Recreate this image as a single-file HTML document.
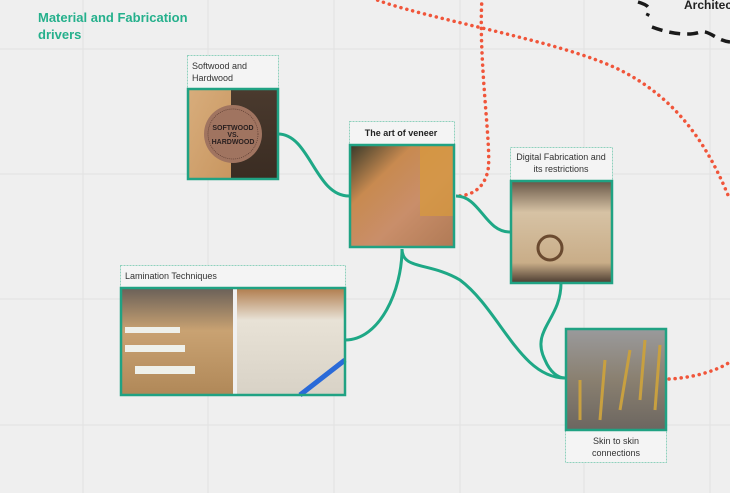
<!DOCTYPE html>
<html><head><style>
html,body{margin:0;padding:0;}
body{width:730px;height:493px;overflow:hidden;background:#efefef;font-family:"Liberation Sans",sans-serif;}
</style></head><body>
<svg width="730" height="493" xmlns="http://www.w3.org/2000/svg" style="position:absolute;left:0;top:0">
<defs>
<linearGradient id="ply" x1="0" y1="0" x2="1" y2="1"><stop offset="0" stop-color="#d8ad7c"/><stop offset="1" stop-color="#c89660"/></linearGradient>
<linearGradient id="dark" x1="0" y1="0" x2="0" y2="1"><stop offset="0" stop-color="#4a3a2e"/><stop offset="1" stop-color="#3a2c22"/></linearGradient>
<linearGradient id="ven" x1="0" y1="0" x2="1" y2="1"><stop offset="0" stop-color="#3a3a2a"/><stop offset="0.3" stop-color="#c88a50"/><stop offset="0.6" stop-color="#c98e6a"/><stop offset="1" stop-color="#b07a55"/></linearGradient>
<linearGradient id="cnc" x1="0" y1="0" x2="0" y2="1"><stop offset="0" stop-color="#6b5a4a"/><stop offset="0.3" stop-color="#d6c2a4"/><stop offset="0.8" stop-color="#c9ad88"/><stop offset="1" stop-color="#4a3b30"/></linearGradient>
<linearGradient id="bolt" x1="0" y1="0" x2="0" y2="1"><stop offset="0" stop-color="#9a9a9c"/><stop offset="0.5" stop-color="#8a8070"/><stop offset="1" stop-color="#6c6660"/></linearGradient>
<linearGradient id="lamL" x1="0" y1="0" x2="0" y2="1"><stop offset="0" stop-color="#6a6058"/><stop offset="0.4" stop-color="#c9a272"/><stop offset="1" stop-color="#b08858"/></linearGradient>
<linearGradient id="lamR" x1="0" y1="0" x2="0" y2="1"><stop offset="0" stop-color="#b07c4c"/><stop offset="0.3" stop-color="#e8e2d6"/><stop offset="1" stop-color="#d8d2c6"/></linearGradient>
</defs>
<g stroke="#e2e2e2" stroke-width="1">
<line x1="83" y1="0" x2="83" y2="493"/><line x1="208" y1="0" x2="208" y2="493"/><line x1="334" y1="0" x2="334" y2="493"/><line x1="460" y1="0" x2="460" y2="493"/><line x1="584" y1="0" x2="584" y2="493"/><line x1="710" y1="0" x2="710" y2="493"/>
<line x1="0" y1="49" x2="730" y2="49"/><line x1="0" y1="174" x2="730" y2="174"/><line x1="0" y1="299" x2="730" y2="299"/><line x1="0" y1="425" x2="730" y2="425"/>
</g>
<g fill="none" stroke="#f0553a" stroke-width="3.5" stroke-dasharray="0.1 6" stroke-linecap="round">
<path d="M372,-2 C420,18 560,40 620,70 C680,100 710,150 730,200"/>
<path d="M482,-2 C478,60 492,150 488,170 C484,190 470,196 456,196"/>
<path d="M669,379 C690,378 715,372 730,362"/>
</g>
<g fill="none" stroke="#1a1a1a" stroke-width="3.5" stroke-dasharray="11 7">
<path d="M638,2 C648,5 652,8 647,16 M652,27 C670,34 690,36 700,32 C710,30 715,40 730,42"/>
</g>
<text x="684" y="9" font-size="12" font-weight="bold" fill="#222">Architec</text>
<g fill="none" stroke="#1ea886" stroke-width="3">
<path d="M278,134 C310,134 315,196 349,196"/>
<path d="M456,196 C480,196 485,232 510,232"/>
<path d="M402,249 C402,290 380,340 345,340"/>
<path d="M402,249 C402,270 430,262 460,280 C500,310 520,378 565,378"/>
<path d="M561,283 C561,320 530,330 545,360 C550,372 558,378 565,378"/>
</g>
<text x="38" y="22" font-size="13" font-weight="bold" fill="#25b08c">Material and Fabrication</text>
<text x="38" y="39" font-size="13" font-weight="bold" fill="#25b08c">drivers</text>
<g fill="#f4f4f4" stroke="#8fd1bd" stroke-width="1" stroke-dasharray="2 1">
<rect x="187.5" y="55.5" width="91" height="33"/>
<rect x="349.5" y="121.5" width="105" height="23"/>
<rect x="510.5" y="147.5" width="102" height="33"/>
<rect x="120.5" y="265.5" width="225" height="22"/>
<rect x="565.5" y="430.5" width="101" height="32"/>
</g>
<g font-size="9" fill="#333">
<text x="192" y="69">Softwood and</text><text x="192" y="81">Hardwood</text>
<text x="401" y="136" text-anchor="middle" font-weight="bold" fill="#222">The art of veneer</text>
<text x="561" y="160" text-anchor="middle">Digital Fabrication and</text><text x="561" y="172" text-anchor="middle">its restrictions</text>
<text x="125" y="279">Lamination Techniques</text>
<text x="616" y="444" text-anchor="middle">Skin to skin</text><text x="616" y="456" text-anchor="middle">connections</text>
</g>
<rect x="188" y="90" width="43" height="89" fill="url(#ply)"/>
<rect x="231" y="90" width="47" height="89" fill="url(#dark)"/>
<circle cx="233" cy="134" r="29" fill="#a07460"/>
<circle cx="233" cy="134" r="25" fill="none" stroke="#5a3a30" stroke-width="0.7" stroke-dasharray="1 1"/>
<text x="233" y="130" font-size="7" font-weight="bold" text-anchor="middle" fill="#2a2020">SOFTWOOD</text>
<text x="233" y="137" font-size="7" font-weight="bold" text-anchor="middle" fill="#2a2020">VS.</text>
<text x="233" y="144" font-size="7" font-weight="bold" text-anchor="middle" fill="#2a2020">HARDWOOD</text>
<rect x="350" y="146" width="104" height="101" fill="url(#ven)"/>
<rect x="420" y="146" width="34" height="70" fill="#d89a3c" opacity="0.7"/>
<rect x="511" y="182" width="101" height="101" fill="url(#cnc)"/>
<circle cx="550" cy="248" r="12" fill="none" stroke="#6a4a30" stroke-width="3"/>
<rect x="566" y="329" width="100" height="101" fill="url(#bolt)"/>
<g stroke="#c8a040" stroke-width="3"><line x1="580" y1="420" x2="580" y2="380"/><line x1="600" y1="420" x2="605" y2="360"/><line x1="620" y1="410" x2="630" y2="350"/><line x1="640" y1="400" x2="645" y2="340"/><line x1="655" y1="410" x2="660" y2="345"/></g>
<rect x="121" y="288" width="112" height="107" fill="url(#lamL)"/>
<rect x="233" y="288" width="4" height="107" fill="#f0f0f0"/>
<rect x="237" y="288" width="108" height="107" fill="url(#lamR)"/>
<g fill="#eef0ea"><rect x="125" y="327" width="55" height="6"/><rect x="125" y="345" width="60" height="7"/><rect x="135" y="366" width="60" height="8"/></g>
<line x1="300" y1="395" x2="345" y2="360" stroke="#2a6ad8" stroke-width="5"/>
<g fill="none" stroke="#20a283" stroke-width="2.5">
<rect x="188" y="89" width="90" height="90"/>
<rect x="350" y="145" width="104" height="102"/>
<rect x="511" y="181" width="101" height="102"/>
<rect x="121" y="288" width="224" height="107"/>
<rect x="566" y="329" width="100" height="101"/>
</g>
</svg>
</body></html>
